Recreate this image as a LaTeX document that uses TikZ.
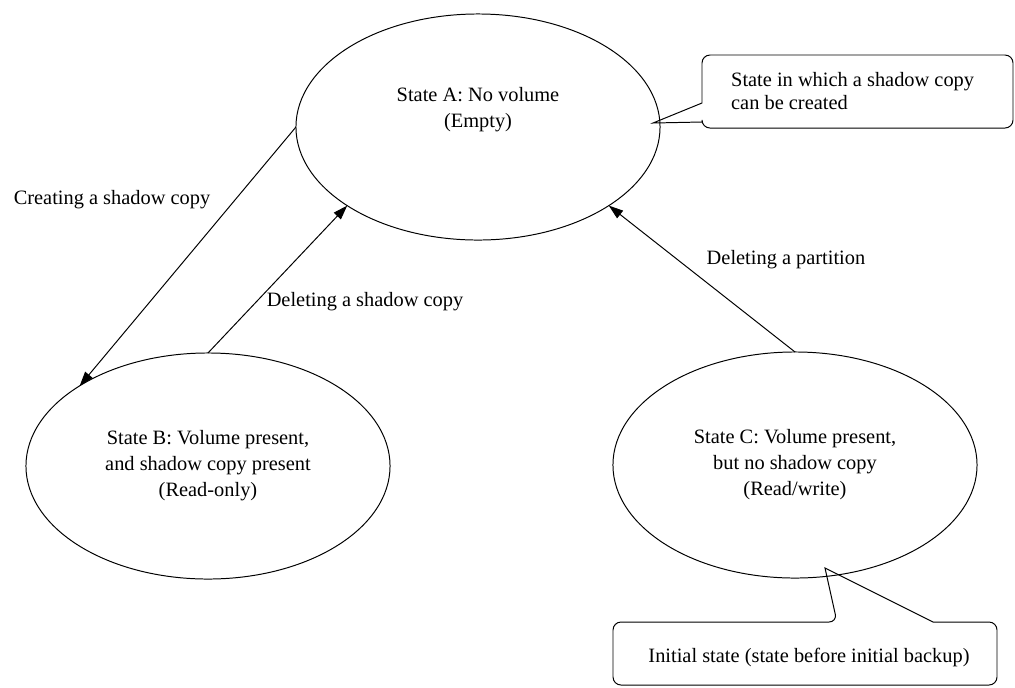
\documentclass[tikz,border=0pt]{standalone}
\usepackage{fontspec}
\setmainfont{Liberation Serif}
\usetikzlibrary{arrows.meta, positioning, shapes.geometric, calc}

\begin{document}
\begin{tikzpicture}[x=0.025cm, y=-0.025cm, line width=0.7pt,
    every node/.style={font=\fontsize{14.5}{18.5}\selectfont},
    state/.style={draw, ellipse, outer sep=0pt, inner sep=0pt, minimum width=9.1cm, minimum height=5.65cm, align=center},
    trans/.style={-{Triangle[length=0.36cm, width=0.24cm]}}]
    \useasboundingbox (0,0) rectangle (1015,687);
    % states
    \node[state] (stA) at (478,127) {};
    \node[align=center] (txtA) at (478,110) {State A: No volume\\(Empty)};
    \node[state] (stB) at (208,466) {State B: Volume present,\\and shadow copy present\\(Read-only)};
    \node[state] (stC) at (795,465) {State C: Volume present,\\but no shadow copy\\(Read/write)};
    % transitions
    \draw[trans] (stA.west) -- (stB.148);
    \draw[trans] (stB.north) -- (stA.211);
    \draw[trans] (stC.north) -- (stA.329);
    \node (lblCreate) at (112,200) {Creating a shadow copy};
    \node (lblDelCopy) at (365,302) {Deleting a shadow copy};
    \node (lblDelPart) at (786,260) {Deleting a partition};
    % callouts
    \coordinate (tipA) at (653,123);
    \coordinate (tipC) at (825,568);
    \draw[rounded corners=0.2cm] (702,103) -- (702,55) -- (1013,55) -- (1013,128) -- (702,128) [sharp corners] -- (702,122) -- (tipA) -- cycle;
    \node[anchor=west, align=left, font=\fontsize{14.5}{16.5}\selectfont] (noteA) at (726,91) {State in which a shadow copy\\can be created};
    \draw[rounded corners=0.2cm] (933,622) -- (997,622) -- (997,685) -- (613,685) -- (613,622) -- (837,622) [sharp corners] -- (tipC) -- cycle;
    \node (noteC) at (809,657) {Initial state (state before initial backup)};
\end{tikzpicture}
\end{document}
